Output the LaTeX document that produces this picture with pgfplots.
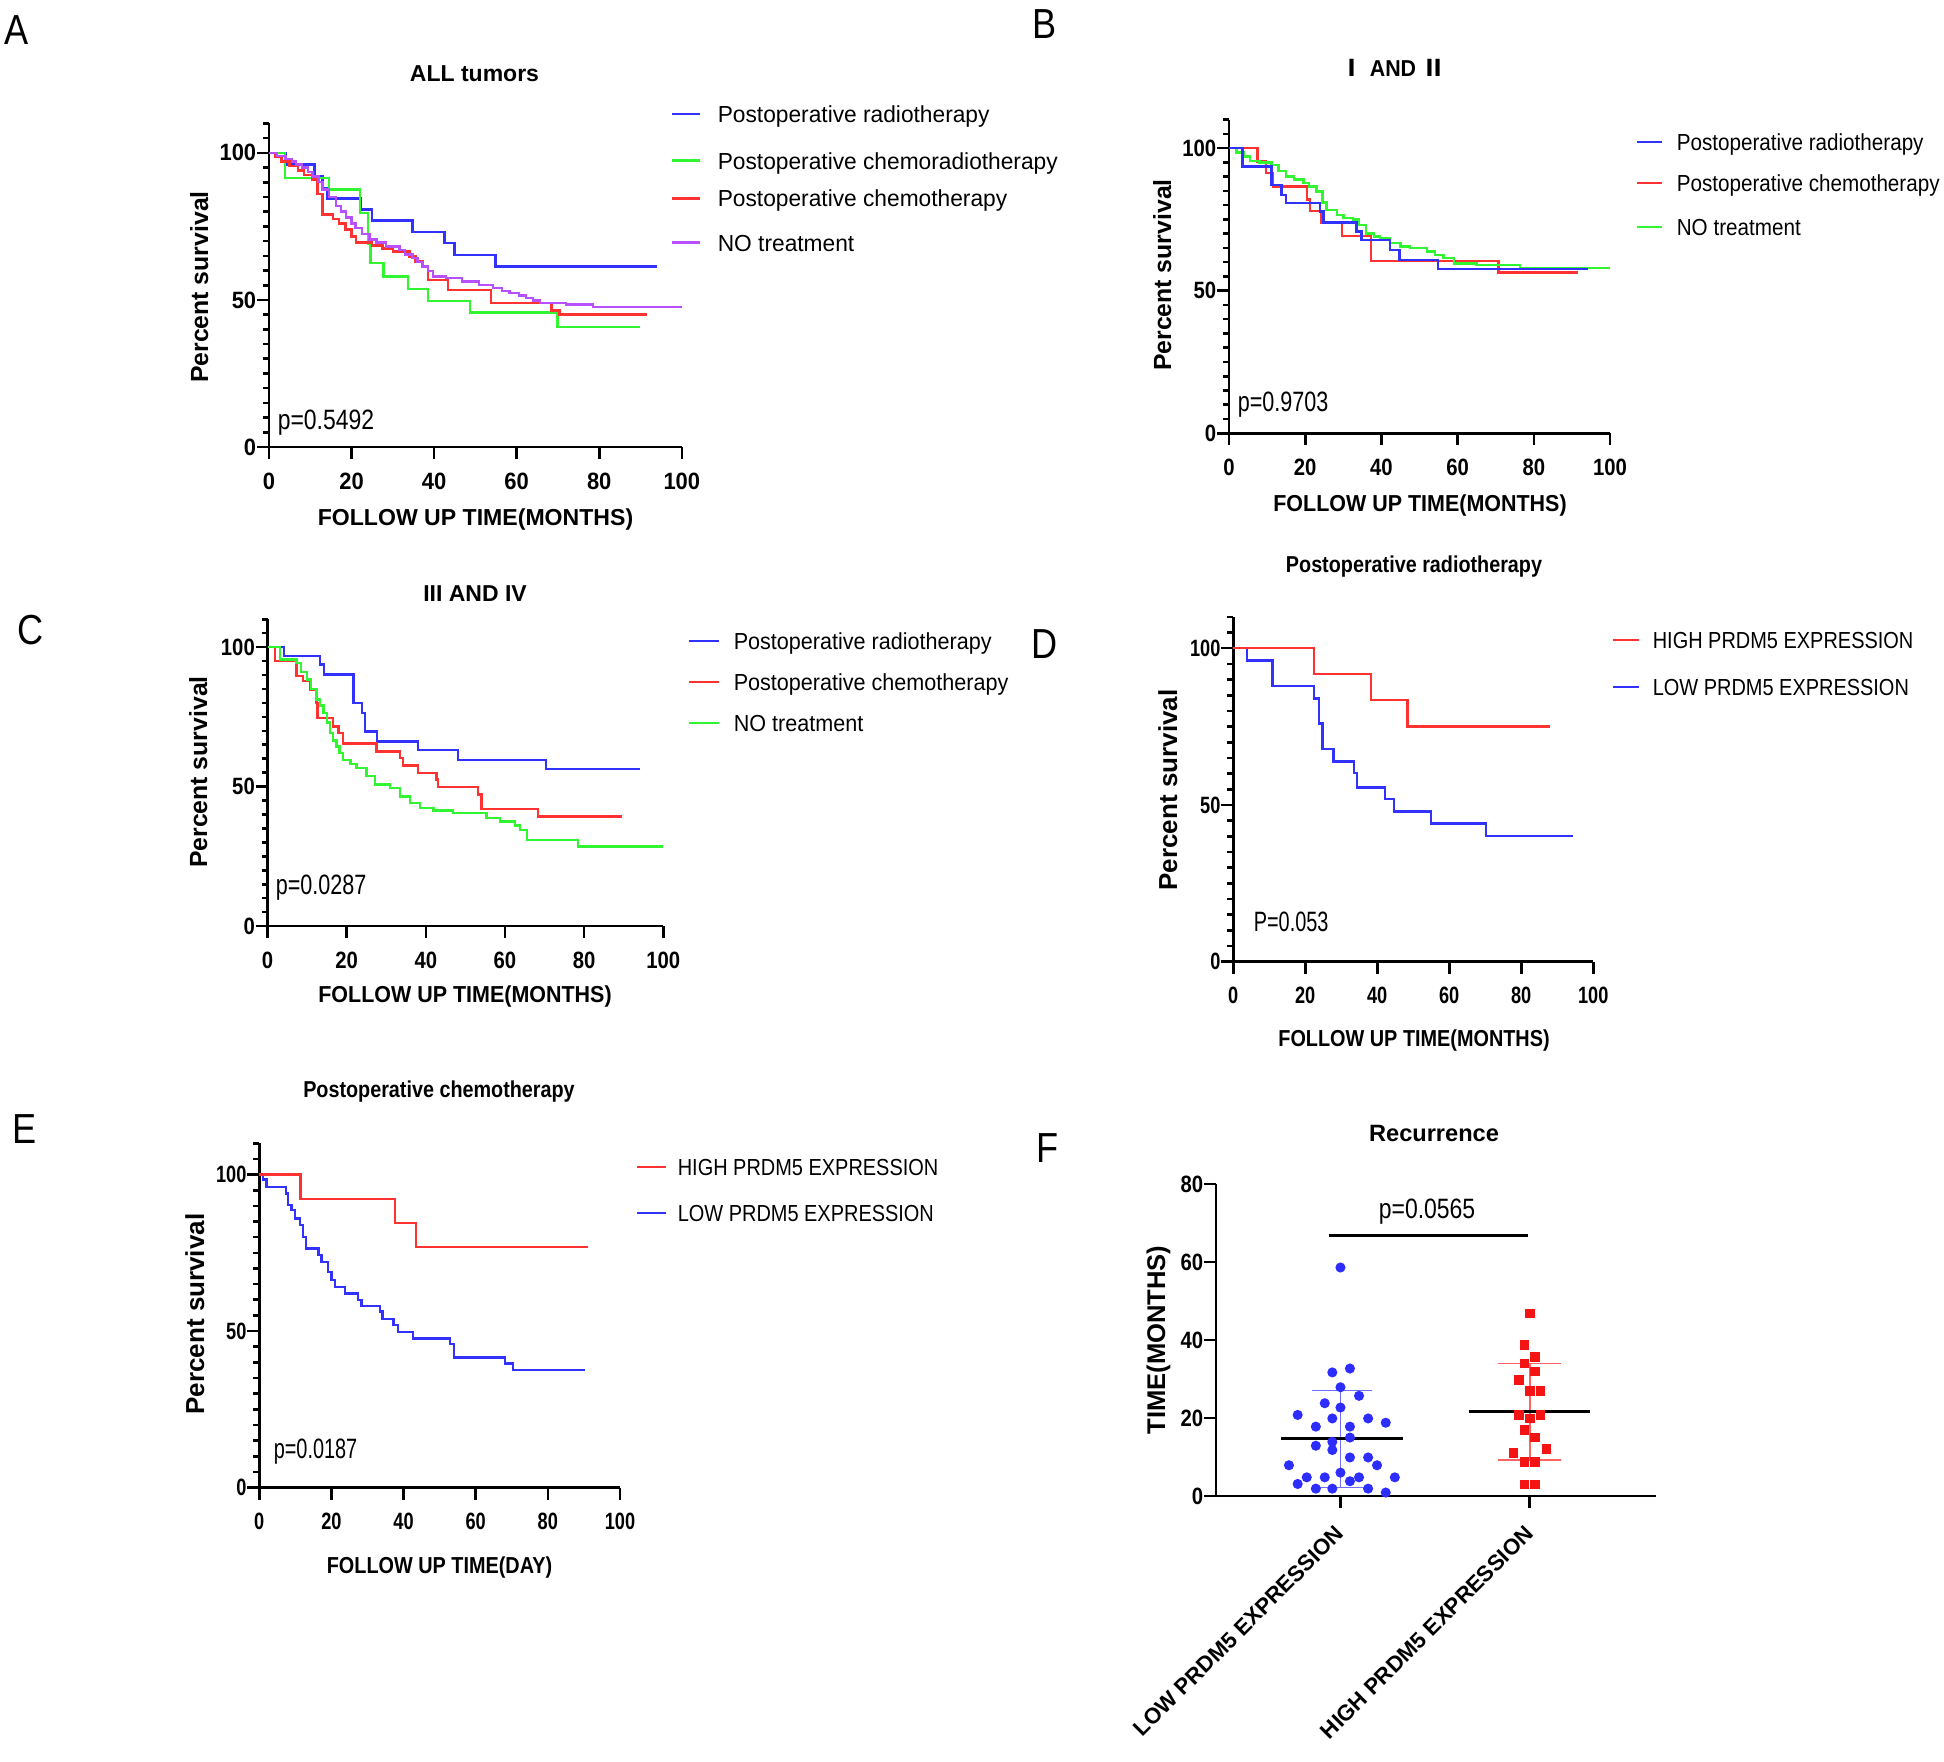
\documentclass[border=0pt]{standalone}
\usepackage{pgfplots}
\pgfplotsset{compat=1.18}
\usepackage{fontspec}
\setmainfont{Liberation Sans}
\newfontfamily\fl[FakeStretch=0.98]{Liberation Sans}
\newfontfamily\fk[FakeStretch=0.93]{Liberation Sans}
\newfontfamily\fb[FakeStretch=0.89]{Liberation Sans}
\newfontfamily\fj[FakeStretch=0.86]{Liberation Sans}
\newfontfamily\fp[FakeStretch=0.82]{Liberation Sans}
\newfontfamily\fq[FakeStretch=0.77]{Liberation Sans}
\newfontfamily\fr[FakeStretch=0.71]{Liberation Sans}
\newfontfamily\cjk{Noto Sans CJK SC}
\newcommand\sz[1]{\fontsize{#1}{#1}\selectfont}

\definecolor{kb}{RGB}{50,50,255}
\definecolor{kr}{RGB}{255,50,50}
\definecolor{kg}{RGB}{50,245,50}
\definecolor{kp}{RGB}{185,80,255}
\definecolor{db}{RGB}{45,45,255}
\definecolor{dr}{RGB}{245,20,20}
\definecolor{sb}{RGB}{110,110,255}
\definecolor{sr}{RGB}{255,100,100}

\pgfplotsset{
  km/.style={
    scale only axis, anchor=south west,
    axis lines=left, axis line style={-, line width=0.65pt},
    tick style={black, line width=0.65pt},
    xmin=0, xmax=100, ymin=0, ymax=110,
    xtick={0,20,40,60,80,100}, ytick={0,50,100},
    minor ytick={5,10,...,110},
    tick align=outside, major tick length=3pt, minor tick length=1.5pt,
    clip=false,
    /pgf/number format/assume math mode=true,
    xticklabel style={inner sep=0pt, anchor=north},
    yticklabel style={inner sep=0pt, anchor=east},
    xticklabel shift=3.2pt,
  },
  kl/.style={const plot, no marks, line width=0.6pt},
}

\begin{document}
\begin{tikzpicture}
\path[use as bounding box] (0,0) rectangle (486pt,-440.25pt);

% A: all tumors
\begin{axis}[km, at={(67.25pt,-111.75pt)}, width=103.2pt, height=80.9pt,
  tick label style={font=\sz{5.9}\fk\bfseries}]
\addplot[kl, kb] coordinates {(0,100) (4,96) (11,92) (13,88) (14,84.5) (22.3,80.7) (24.9,77) (34.8,73) (42.5,69.3) (44.9,65.3) (54.9,61.4) (93.9,61.4)};
\addplot[kl, kg] coordinates {(0,100) (3.9,91.5) (14.6,87.5) (22.1,79.5) (24,69) (24.6,62.5) (27.7,58) (33.7,53.8) (38.5,49.7) (48.7,45.7) (69.9,40.9) (89.9,40.9)};
\addplot[kl, kr] coordinates {(0,100) (1.5,98.5) (3,97) (5,95.5) (7,94) (8.5,92.5) (10.5,91) (11.7,86) (13,79) (15.5,77.5) (17,76) (18.5,74) (20,71.5) (21.1,69.5) (25,68.5) (27.5,67.5) (30,66.5) (34,64.8) (35.5,63) (37.2,61.4) (38.5,56.8) (43.3,53.4) (53.8,48.9) (68.4,46.4) (70.4,45.1) (91.5,45.1)};
\addplot[kl, kp] coordinates {(0,100) (2,99) (4,98) (5.5,97) (6.5,96) (8,95) (9.5,93.5) (10.5,92) (12,90) (13,87.5) (14.5,85) (16.2,82) (17.5,80) (18.6,78) (20,76) (21,74.5) (22.5,72.5) (24.3,70.5) (26,69.5) (28.3,68.2) (31.6,67) (33,65.5) (34.8,64.2) (36,62.8) (37.2,61.4) (38.5,59.8) (39.7,58) (42.9,57.4) (46.8,56.3) (50.8,55.1) (54.3,54) (56.5,53) (58.3,52.3) (60.5,51.5) (62.3,50.6) (64,49.8) (65.6,48.9) (72,48.4) (78.5,47.5) (100,47.5)};
\end{axis}

% B: stage I and II
\begin{axis}[km, at={(307.25pt,-108.3pt)}, width=95.25pt, height=78.4pt,
  tick label style={font=\sz{5.9}\fj\bfseries}]
\addplot[kl, kr] coordinates {(0,100) (7.5,95.3) (9.7,91.2) (11.6,86.5) (20.4,82) (21.3,78) (24.1,73.7) (29.7,69.2) (37.3,60.5) (70.7,56.4) (91.7,56.4)};
\addplot[kl, kg] coordinates {(0,100) (2,98.5) (4,97) (5.5,95.5) (8,95) (11.2,94) (13,92) (15,90) (17,89) (19.5,87.7) (21,86.5) (23,84.8) (24.5,81) (25.6,78.4) (28.3,76.6) (30,75.5) (32.6,74.9) (34,73) (36,70) (38,69) (39.6,68.4) (42.3,66.7) (45,65.5) (47.5,64.9) (51.9,63.7) (54,62.5) (56.3,61.4) (59,59.6) (65,59) (76.4,57.9) (100,57.9)};
\addplot[kl, kb] coordinates {(0,100) (3.5,93.6) (11.2,87) (13.8,83.6) (15,80.7) (23.9,77.8) (24.8,73.9) (33.5,70.8) (34.8,67.8) (42.3,64.3) (44.7,60.8) (54.9,57.7) (94.1,57.7)};
\end{axis}

% C: stage III and IV
\begin{axis}[km, at={(66.9pt,-231.5pt)}, width=98.9pt, height=76.7pt,
  tick label style={font=\sz{5.9}\fj\bfseries}]
\addplot[kl, kb] coordinates {(0,100) (4.2,96.8) (13.2,93.8) (14.2,90.2) (21.7,80) (23.8,76.4) (24.6,69.8) (27.7,66.2) (38,63.2) (48.2,59.6) (70.3,56.4) (94.1,56.4)};
\addplot[kl, kr] coordinates {(0,100) (1.9,95) (7.3,89.6) (9,87.8) (10.7,84.8) (12.4,80) (12.6,74.6) (16.6,71.6) (17.9,69.2) (19.1,65.4) (27.5,62.6) (33.4,60.2) (34.3,57.6) (38,54.9) (42.7,52.5) (43.1,49.8) (53.2,47.1) (54.1,41.9) (68.4,39.3) (89.5,39.3)};
\addplot[kl, kg] coordinates {(0,100) (3.1,95.6) (7.3,94.4) (8.5,91) (9.9,88.4) (11,85) (12.4,81.2) (13.3,79) (14.1,76.4) (15,73) (15.8,69.2) (16.6,66.5) (17.4,64.4) (18.2,62) (19.1,59.6) (21,58) (22.5,56.6) (25,53.7) (27.1,50.7) (30.9,49.5) (33.4,46.5) (36,44.1) (38.5,42.3) (41.9,41.4) (46.9,40.5) (55.3,38.7) (58.7,37.5) (62.5,36) (63.8,34.5) (65.5,30.9) (78.5,28.5) (100,28.5)};
\end{axis}

% D: postoperative radiotherapy
\begin{axis}[km, at={(308.3pt,-240.4pt)}, width=90pt, height=86.2pt,
  tick label style={font=\sz{5.9}\fq\bfseries}]
\addplot[kl, kb] coordinates {(0,100) (3.9,96.1) (10.9,88) (22.5,84) (23.9,76) (24.8,67.9) (27.8,63.8) (33.5,60.1) (34.4,55.6) (42.1,51.8) (44.6,47.9) (54.9,44.1) (70.2,40.1) (94.4,40.1)};
\addplot[kl, kr] coordinates {(0,100) (22.5,91.8) (38.2,83.5) (48.4,75) (88,75)};
\end{axis}

% E: postoperative chemotherapy
\begin{axis}[km, at={(64.8pt,-371.9pt)}, width=90.2pt, height=86.1pt,
  tick label style={font=\sz{5.9}\fq\bfseries}]
\addplot[kl, kb] coordinates {(0,100) (1.1,98.4) (2,96) (7.4,93.9) (8,90.2) (9,88.6) (9.9,86) (11.3,83.8) (12.2,80.1) (12.9,76.4) (16.4,74.3) (17.3,72.1) (19.1,68.9) (20,66.3) (21,64.1) (23.8,62) (27.4,59.9) (28.4,58.1) (33.5,56.2) (34.2,53.8) (37.2,51.9) (38.5,49.8) (42.7,47.7) (52.9,45.9) (54,41.6) (68.1,39.7) (70.4,37.6) (90.3,37.6)};
\addplot[kl, kr] coordinates {(0,100) (11.5,92.1) (37.6,84.6) (43.4,76.9) (91.2,76.9)};
\end{axis}

% F: recurrence
\begin{axis}[scale only axis, anchor=south west, at={(304pt,-374pt)}, width=110pt, height=78pt,
  axis lines=left, axis line style={-, line width=0.7pt},
  tick style={black, line width=0.7pt},
  xmin=-0.657, xmax=1.666, ymin=0, ymax=80,
  ytick={0,20,40,60,80}, xtick={0,1},
  xticklabels={LOW PRDM5 EXPRESSION, HIGH PRDM5 EXPRESSION},
  tick align=outside, major tick length=3pt, clip=false,
  /pgf/number format/assume math mode=true,
  yticklabel style={font=\sz{5.9}\fj\bfseries, inner sep=0pt, anchor=east},
  xticklabel style={font=\sz{5.55}\bfseries, rotate=45, anchor=east, inner sep=0pt},
  xticklabel shift=5.3pt]
\addplot[sb, line width=0.35pt] coordinates {(0,2.2) (0,27)};
\addplot[sb, line width=0.35pt] coordinates {(-0.152,27) (0.167,27)};
\addplot[sb, line width=0.35pt] coordinates {(-0.152,2.2) (0.167,2.2)};
\addplot[sr, line width=0.35pt] coordinates {(1,9.2) (1,34)};
\addplot[sr, line width=0.35pt] coordinates {(0.833,34) (1.163,34)};
\addplot[sr, line width=0.35pt] coordinates {(0.833,9.2) (1.163,9.2)};
\addplot[only marks, mark=*, mark size=1.05pt, db] coordinates {
 (0,58.6) (-0.043,31.7) (0.05,32.7) (0,27.9) (0.098,25.7) (-0.083,23.8) (0,22.7)
 (-0.226,20.8) (-0.043,19.9) (0.146,19.9) (0.239,18.8) (-0.13,17.8) (0.05,17.8)
 (0.05,15.0) (-0.043,13.9) (-0.13,12.9) (-0.043,11.8) (0.05,9.9) (0.146,9.9)
 (0.193,7.9) (-0.272,7.9) (0,6.0) (-0.178,4.8) (-0.083,4.8) (0.098,4.8) (0.287,4.8)
 (-0.226,3.1) (0.05,3.8) (-0.13,1.9) (-0.043,1.9) (0.146,1.9) (0.239,0.9)};
\addplot[only marks, mark=square*, mark size=1.0pt, dr] coordinates {
 (1,46.8) (0.972,38.7) (1.028,35.7) (0.972,34.0) (1.028,31.9) (0.941,29.7)
 (1,27.0) (1.056,27.0) (0.941,20.8) (1,19.9) (1.056,20.8) (0.972,16.9)
 (1.028,15.0) (0.913,11.1) (1.087,12.0) (0.972,8.8) (1.028,8.8) (0.972,3.0) (1.028,3.0)};
\addplot[black, line width=0.8pt] coordinates {(-0.315,14.7) (0.33,14.7)};
\addplot[black, line width=0.8pt] coordinates {(0.681,21.6) (1.319,21.6)};
\addplot[black, line width=0.7pt] coordinates {(-0.059,66.9) (0.991,66.9)};
\node[font=\sz{7}\fp] at (axis cs:0.457,72.8) {p=0.0565};
\end{axis}

\begin{scope}[x=0.25pt, y=-0.25pt]
% panel letters
\foreach \l/\x/\y in {A/17/44, B/1045/38, C/31/644, D/1045/658, E/25/1143, F/1048/1162}
  \node[anchor=base, inner sep=0pt, font=\sz{10.5}\fj] at (\x,\y) {\l};
% titles
\node[anchor=base, inner sep=0pt, font=\sz{5.75}\bfseries] at (474.5,81.7) {ALL tumors};
\node[anchor=base, inner sep=0pt, font=\sz{5.75}\fk\bfseries] at (1393,76.2) {{\cjk Ⅰ} AND {\cjk Ⅱ}};
\node[anchor=base, inner sep=0pt, font=\sz{5.75}\bfseries] at (475,601) {III AND IV};
\node[anchor=base, inner sep=0pt, font=\sz{5.75}\fj\bfseries] at (1414,572) {Postoperative radiotherapy};
\node[anchor=base, inner sep=0pt, font=\sz{5.75}\fj\bfseries] at (439,1097) {Postoperative chemotherapy};
\node[anchor=base, inner sep=0pt, font=\sz{5.9}\bfseries] at (1434,1141) {Recurrence};
% legends
\foreach \y/\c/\t in {114/kb/Postoperative radiotherapy, 160.7/kg/Postoperative chemoradiotherapy, 198.3/kr/Postoperative chemotherapy, 242.7/kp/NO treatment}{
  \draw[\c, line width=0.7pt] (672,\y) -- (700,\y);
  \node[anchor=base west, inner sep=0pt, font=\sz{5.8}\fl] at (717,\y+8.3) {\t};}
\foreach \y/\c/\t in {142/kb/Postoperative radiotherapy, 183/kr/Postoperative chemotherapy, 227/kg/NO treatment}{
  \draw[\c, line width=0.7pt] (1637,\y) -- (1662,\y);
  \node[anchor=base west, inner sep=0pt, font=\sz{5.8}\fb] at (1676,\y+8.3) {\t};}
\foreach \y/\c/\t in {641/kb/Postoperative radiotherapy, 682/kr/Postoperative chemotherapy, 723/kg/NO treatment}{
  \draw[\c, line width=0.7pt] (689,\y) -- (719,\y);
  \node[anchor=base west, inner sep=0pt, font=\sz{5.8}\fk] at (733,\y+8.3) {\t};}
\foreach \y/\c/\t in {640/kr/HIGH PRDM5 EXPRESSION, 687/kb/LOW PRDM5 EXPRESSION}{
  \draw[\c, line width=0.7pt] (1613,\y) -- (1639,\y);
  \node[anchor=base west, inner sep=0pt, font=\sz{5.8}\fj] at (1652,\y+8.3) {\t};}
\foreach \y/\c/\t in {1167/kr/HIGH PRDM5 EXPRESSION, 1213/kb/LOW PRDM5 EXPRESSION}{
  \draw[\c, line width=0.7pt] (637,\y) -- (666,\y);
  \node[anchor=base west, inner sep=0pt, font=\sz{5.8}\fj] at (677,\y+8.3) {\t};}
% p values
\node[anchor=base west, inner sep=0pt, font=\sz{7}\fp] at (277,429) {p=0.5492};
\node[anchor=base west, inner sep=0pt, font=\sz{7}\fq] at (1237,411) {p=0.9703};
\node[anchor=base west, inner sep=0pt, font=\sz{7}\fq] at (275,894) {p=0.0287};
\node[anchor=base west, inner sep=0pt, font=\sz{7}\fr] at (1253,931) {P=0.053};
\node[anchor=base west, inner sep=0pt, font=\sz{7}\fr] at (273,1458) {p=0.0187};
% axis titles
\node[anchor=base, inner sep=0pt, font=\sz{5.77}\bfseries] at (475.5,525.3) {FOLLOW UP TIME(MONTHS)};
\node[anchor=base, inner sep=0pt, font=\sz{5.77}\fk\bfseries] at (1420,511.3) {FOLLOW UP TIME(MONTHS)};
\node[anchor=base, inner sep=0pt, font=\sz{5.77}\fk\bfseries] at (465,1002.3) {FOLLOW UP TIME(MONTHS)};
\node[anchor=base, inner sep=0pt, font=\sz{5.77}\fj\bfseries] at (1414,1046.3) {FOLLOW UP TIME(MONTHS)};
\node[anchor=base, inner sep=0pt, font=\sz{5.77}\fj\bfseries] at (439.5,1573.3) {FOLLOW UP TIME(DAY)};
\foreach \x/\y/\s in {208/287/6.2, 1171/275/6.2, 207/772/6.2, 1177/790/6.5, 204/1314/6.5}
  \node[anchor=base, rotate=90, inner sep=0pt, font=\sz{\s}\bfseries] at (\x,\y) {Percent survival};
\node[anchor=base, rotate=90, inner sep=0pt, font=\sz{6.4}\bfseries] at (1165,1340) {TIME(MONTHS)};
\end{scope}
\end{tikzpicture}
\end{document}
